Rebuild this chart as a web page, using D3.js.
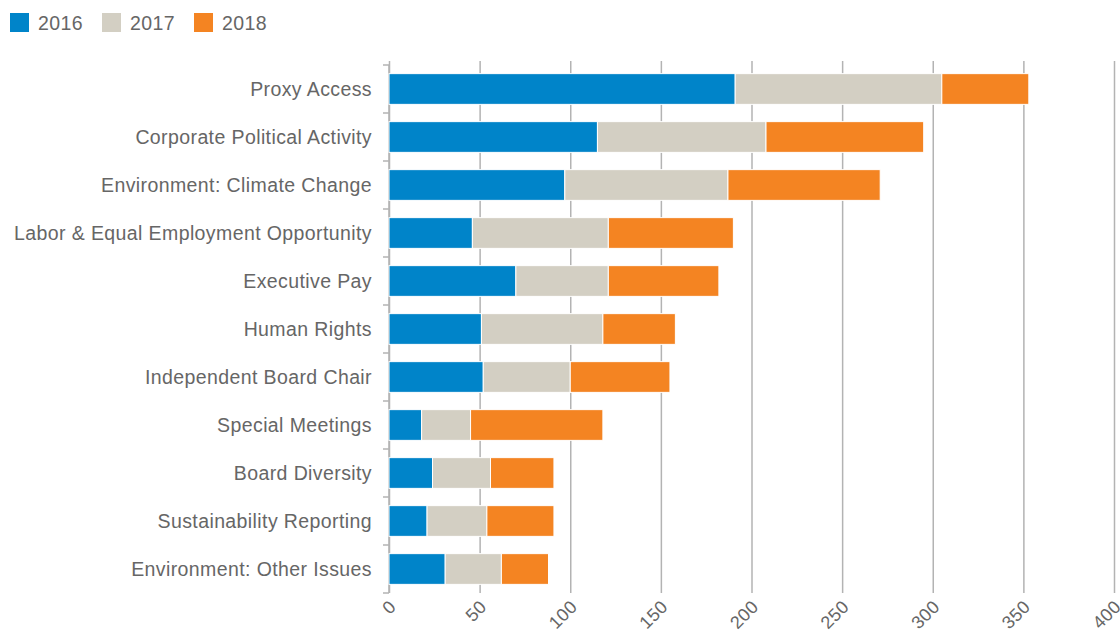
<!DOCTYPE html>
<html>
<head>
<meta charset="utf-8">
<script src="https://cdn.jsdelivr.net/npm/d3@7"></script>
<style>
  body { margin: 0; background: #fff; font-family: "Liberation Sans", Arial, sans-serif; }
  .axisText { fill: #666; font-size: 19.5px; letter-spacing: 0.4px; }
  .xLabel { font-size: 18px; }
  .legendText { fill: #666; font-size: 19.5px; letter-spacing: 0.4px; }
  .grid line { stroke: #b3b3b3; stroke-width: 1.5; }
  .grid path { display: none; }
</style>
</head>
<body>
<div id="chart"></div>
<script>

// proposals by topic, stacked by year
var categories = ["Proxy Access", "Corporate Political Activity", "Environment: Climate Change",
  "Labor & Equal Employment Opportunity", "Executive Pay", "Human Rights", "Independent Board Chair",
  "Special Meetings", "Board Diversity", "Sustainability Reporting", "Environment: Other Issues"];
var years = ["2016", "2017", "2018"];
var values2016 = [191, 115, 97, 46, 70, 51, 52, 18, 24, 21, 31];
var values2017 = [114, 93, 90, 75, 51, 67, 48, 27, 32, 33, 31];
var values2018 = [48, 87, 84, 69, 61, 40, 55, 73, 35, 37, 26];
var xTicks = [0, 50, 100, 150, 200, 250, 300, 350, 400];
var colors = ["#0084c9", "#d3cfc3", "#f48422"];

var margin = {top: 65, right: 6, bottom: 41, left: 389};
var width = 1120 - margin.left - margin.right,
    height = 634 - margin.top - margin.bottom;

var data = categories.map(function(c, i) {
  return {cat: c, "2016": values2016[i], "2017": values2017[i], "2018": values2018[i]};
});

var svg = d3.select("#chart").append("svg")
    .attr("width", 1120)
    .attr("height", 634);

var g = svg.append("g")
    .attr("transform", "translate(" + margin.left + "," + margin.top + ")");

var x = d3.scaleLinear().domain([0, 400]).range([0, 725]);
var y = d3.scaleBand().domain(categories).range([0, height]).paddingInner(0.36).paddingOuter(0.18);
var yTicks = d3.scaleBand().domain(categories).range([0, height]);

// gridlines
g.append("g")
    .attr("class", "grid")
    .attr("transform", "translate(0," + height + ")")
    .call(d3.axisBottom(x).tickValues(xTicks).tickSize(-height - 4).tickFormat(""));

// y axis line + band ticks
g.append("line")
    .attr("x1", 0).attr("x2", 0)
    .attr("y1", 0).attr("y2", height)
    .attr("stroke", "#b3b3b3").attr("stroke-width", 1.5);

g.selectAll(".ytick")
    .data(categories.concat(["end"]))
    .enter().append("line")
    .attr("class", "ytick")
    .attr("x1", -6).attr("x2", 0)
    .attr("y1", function(d, i) { return i * yTicks.step(); })
    .attr("y2", function(d, i) { return i * yTicks.step(); })
    .attr("stroke", "#b3b3b3").attr("stroke-width", 1.5);

// stacked bars
var stack = d3.stack().keys(years);
var series = stack(data);

g.selectAll(".layer")
    .data(series)
    .enter().append("g")
    .attr("class", "layer")
    .attr("fill", function(d, i) { return colors[i]; })
  .selectAll("rect")
    .data(function(d) { return d; })
    .enter().append("rect")
    .attr("x", function(d) { return x(d[0]); })
    .attr("y", function(d) { return y(d.data.cat); })
    .attr("width", function(d) { return x(d[1]) - x(d[0]); })
    .attr("height", y.bandwidth())
    .attr("stroke", "#fff")
    .attr("stroke-width", 1);

// category labels
g.selectAll(".catLabel")
    .data(categories)
    .enter().append("text")
    .attr("class", "axisText catLabel")
    .attr("x", -17)
    .attr("y", function(d) { return y(d) + y.bandwidth() / 2; })
    .attr("dy", "0.35em")
    .attr("text-anchor", "end")
    .text(function(d) { return d; });

// x tick labels, rotated
g.selectAll(".xLabel")
    .data(xTicks)
    .enter().append("text")
    .attr("class", "axisText xLabel")
    .attr("text-anchor", "end")
    .attr("transform", function(d) { return "translate(" + (x(d) + 8) + "," + (height + 15) + ") rotate(-45)"; })
    .text(function(d) { return d; });

// legend
var legend = svg.selectAll(".legend")
    .data(years)
    .enter().append("g")
    .attr("class", "legend")
    .attr("transform", function(d, i) { return "translate(" + (10 + i * 92) + ",13)"; });

legend.append("rect")
    .attr("width", 19).attr("height", 19)
    .attr("fill", function(d, i) { return colors[i]; });

legend.append("text")
    .attr("class", "legendText")
    .attr("x", 28).attr("y", 16.5)
    .text(function(d) { return d; });

</script>
</body>
</html>
